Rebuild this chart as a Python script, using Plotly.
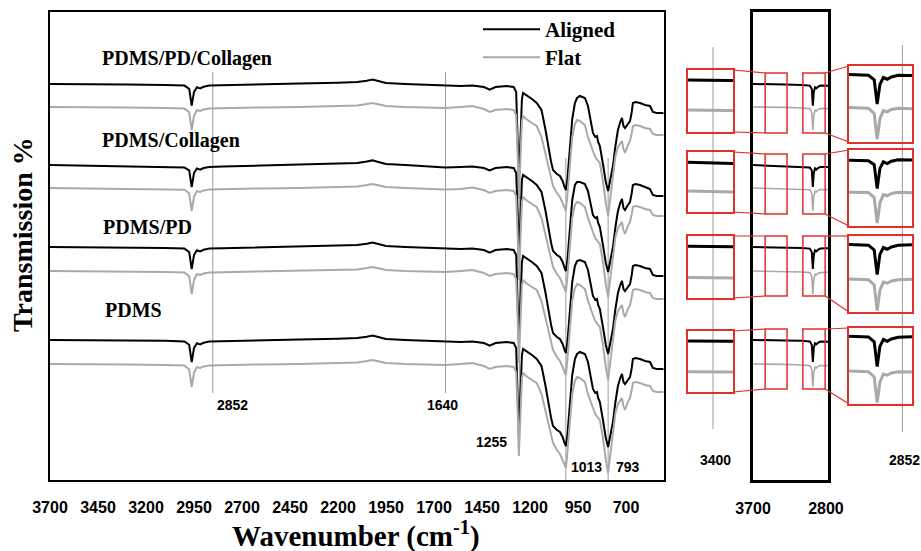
import plotly.graph_objects as go

# ---------------- data ----------------
wavenumber = [
    3700, 3500, 3300, 3100, 3000, 2975, 2962, 2950, 2935, 2918,
    2900, 2870, 2800, 2600, 2400, 2200, 2100, 2050, 2020, 1990,
    1950, 1850, 1700, 1640, 1560, 1500, 1440, 1410, 1380, 1320,
    1285, 1272, 1264, 1258, 1250, 1242, 1236, 1220, 1190, 1165,
    1140, 1120, 1106, 1090, 1080, 1060, 1044, 1030, 1020, 1013,
    1005, 992, 980, 966, 955, 940, 925, 914, 898, 885,
    872, 860, 851, 845, 836, 820, 805, 793, 780, 768,
    755, 742, 730, 721, 713, 705, 690, 679, 670, 664,
    650, 627, 601, 575, 560, 540, 505,
]

pdms_pd_collagen_aligned = [
    99.0, 99.0, 98.9, 98.75, 98.6, 97.8, 93.6, 97.0, 98.2, 97.9,
    98.3, 98.6, 98.7, 98.9, 99.1, 99.3, 99.5, 99.8, 100.1, 99.75,
    99.25, 99.0, 98.75, 98.5, 98.5, 98.6, 98.25, 97.6, 98.25, 98.5,
    98.25, 97.0, 87.0, 75.0, 85.0, 95.25, 96.75, 96.25, 95.25, 94.25,
    92.5, 87.75, 83.5, 79.5, 77.5, 76.5, 76.0, 74.75, 73.25, 72.5,
    75.25, 83.5, 90.25, 94.25, 95.5, 96.0, 95.75, 95.5, 93.5, 90.25,
    86.75, 85.75, 86.0, 84.5, 83.5, 79.0, 74.5, 72.25, 75.25, 78.5,
    83.5, 87.5, 89.5, 90.5, 88.5, 88.0, 89.0, 89.75, 92.0, 94.25,
    94.5, 94.25, 93.75, 93.5, 92.0, 91.75, 91.75,
]
pdms_pd_collagen_flat = [
    93.25, 93.25, 93.15, 93.0, 92.85, 91.95, 87.5, 91.05, 92.45, 92.25,
    92.65, 92.85, 92.95, 93.15, 93.25, 93.45, 93.65, 94.0, 94.25, 93.95,
    93.5, 93.25, 93.0, 93.0, 93.25, 93.5, 92.75, 92.0, 92.5, 92.75,
    92.5, 91.25, 81.25, 70.25, 80.25, 89.75, 91.0, 90.25, 89.25, 88.5,
    85.75, 81.75, 78.75, 75.25, 73.5, 71.75, 70.75, 69.25, 68.0, 67.25,
    71.25, 79.25, 85.75, 89.0, 90.0, 89.75, 89.25, 88.75, 85.75, 83.75,
    82.25, 80.75, 80.0, 79.75, 79.25, 74.75, 69.25, 66.0, 71.25, 76.75,
    81.0, 83.25, 84.25, 84.75, 82.75, 81.75, 83.75, 84.75, 86.75, 88.5,
    88.75, 88.5, 88.0, 87.75, 86.5, 86.25, 86.25,
]
pdms_collagen_aligned = [
    78.75, 78.6, 78.4, 78.25, 78.1, 77.4, 73.25, 76.75, 77.9, 77.6,
    78.0, 78.25, 78.4, 78.6, 78.8, 79.0, 79.25, 79.6, 79.9, 79.5,
    79.0, 78.75, 78.4, 78.1, 78.25, 78.4, 78.0, 77.4, 78.0, 78.25,
    78.0, 76.75, 66.75, 54.75, 64.75, 75.0, 76.25, 75.75, 74.75, 73.75,
    72.0, 67.5, 63.25, 59.25, 57.25, 56.25, 55.75, 54.5, 53.0, 52.25,
    55.0, 63.25, 70.0, 73.75, 74.5, 74.5, 74.25, 74.0, 72.25, 69.5,
    66.25, 65.5, 65.75, 64.25, 63.25, 58.75, 54.25, 52.0, 55.0, 58.25,
    63.25, 67.25, 69.25, 70.25, 68.0, 67.5, 68.75, 69.5, 71.75, 73.75,
    74.0, 73.75, 73.25, 72.75, 71.25, 71.0, 71.0,
]
pdms_collagen_flat = [
    73.0, 72.9, 72.8, 72.7, 72.55, 71.7, 67.25, 70.8, 72.2, 72.0,
    72.4, 72.6, 72.7, 72.9, 73.0, 73.2, 73.4, 73.75, 74.0, 73.7,
    73.25, 73.0, 72.75, 72.6, 72.75, 73.1, 72.5, 71.75, 72.25, 72.5,
    72.25, 71.0, 61.0, 50.0, 60.0, 69.5, 70.75, 70.0, 69.0, 68.25,
    65.5, 61.5, 58.5, 55.0, 53.25, 51.5, 50.5, 49.0, 47.75, 47.0,
    51.0, 59.0, 65.5, 68.75, 69.5, 69.25, 68.75, 68.25, 65.5, 63.5,
    62.0, 60.5, 59.75, 59.5, 59.0, 54.5, 49.0, 45.75, 51.0, 56.5,
    60.75, 63.0, 64.0, 64.5, 62.5, 61.5, 63.5, 64.5, 66.5, 68.25,
    68.5, 68.25, 67.75, 67.5, 66.25, 66.0, 66.0,
]
pdms_pd_aligned = [
    58.25, 58.2, 58.1, 58.0, 57.85, 57.0, 52.75, 56.25, 57.45, 57.15,
    57.55, 57.85, 57.95, 58.15, 58.35, 58.55, 58.75, 59.05, 59.35, 59.0,
    58.5, 58.25, 58.0, 57.75, 57.75, 57.85, 57.5, 56.85, 57.5, 57.75,
    57.5, 56.25, 46.25, 34.25, 44.25, 54.5, 56.0, 55.5, 54.5, 53.5,
    51.75, 47.0, 42.75, 38.75, 36.75, 35.75, 35.25, 34.0, 32.5, 31.75,
    34.5, 42.75, 49.5, 53.5, 54.75, 55.0, 54.75, 54.5, 52.5, 49.5,
    46.0, 45.0, 45.25, 43.75, 42.75, 38.25, 33.75, 31.5, 34.5, 37.75,
    42.75, 46.75, 48.75, 49.75, 47.75, 47.25, 48.25, 49.0, 51.25, 53.5,
    53.75, 53.5, 53.0, 52.75, 51.25, 51.0, 51.0,
]
pdms_pd_flat = [
    52.25, 52.2, 52.15, 52.0, 51.85, 50.95, 46.5, 50.05, 51.45, 51.25,
    51.65, 51.85, 51.95, 52.15, 52.25, 52.45, 52.65, 53.0, 53.25, 52.95,
    52.5, 52.25, 52.0, 52.0, 52.25, 52.5, 51.75, 51.0, 51.5, 51.75,
    51.5, 50.25, 40.25, 29.25, 39.25, 48.75, 50.0, 49.25, 48.25, 47.5,
    44.75, 40.75, 37.75, 34.25, 32.5, 30.75, 29.75, 28.25, 27.0, 26.25,
    30.25, 38.25, 44.75, 48.0, 49.0, 48.75, 48.25, 47.75, 44.75, 42.75,
    41.25, 39.75, 39.0, 38.75, 38.25, 33.75, 28.25, 25.0, 30.25, 35.75,
    40.0, 42.25, 43.25, 43.75, 41.75, 40.75, 42.75, 43.75, 45.75, 47.5,
    47.75, 47.5, 47.0, 46.75, 45.5, 45.25, 45.25,
]
pdms_aligned = [
    35.0, 35.0, 34.9, 34.8, 34.65, 33.8, 29.5, 33.0, 34.2, 33.9,
    34.3, 34.6, 34.7, 34.9, 35.1, 35.3, 35.5, 35.8, 36.1, 35.75,
    35.25, 35.0, 34.75, 34.5, 34.5, 34.6, 34.25, 33.6, 34.25, 34.5,
    34.25, 33.0, 23.0, 11.0, 21.0, 31.25, 32.75, 32.25, 31.25, 30.25,
    28.5, 23.75, 19.5, 15.5, 13.5, 12.5, 12.0, 10.75, 9.25, 8.5,
    11.25, 19.5, 26.25, 30.25, 31.5, 32.0, 31.75, 31.5, 29.5, 26.25,
    22.75, 21.75, 22.0, 20.5, 19.5, 15.0, 10.5, 8.25, 11.25, 14.5,
    19.5, 23.5, 25.5, 26.5, 24.5, 24.0, 25.0, 25.75, 28.0, 30.25,
    30.5, 30.25, 29.75, 29.5, 28.0, 27.75, 27.75,
]
pdms_flat = [
    29.0, 29.0, 28.9, 28.75, 28.6, 27.7, 23.25, 26.8, 28.2, 28.0,
    28.4, 28.6, 28.7, 28.9, 29.0, 29.2, 29.4, 29.75, 30.0, 29.7,
    29.25, 29.0, 28.75, 28.75, 29.0, 29.25, 28.5, 27.75, 28.25, 28.5,
    28.25, 27.0, 17.0, 6.0, 16.0, 25.5, 26.75, 26.0, 25.0, 24.25,
    21.5, 17.5, 14.5, 11.0, 9.25, 7.5, 6.5, 5.0, 3.75, 3.0,
    7.0, 15.0, 21.5, 24.75, 25.75, 25.5, 25.0, 24.5, 21.5, 19.5,
    18.0, 16.5, 15.75, 15.5, 15.0, 10.5, 5.0, 1.75, 7.0, 12.5,
    16.75, 19.0, 20.0, 20.5, 18.5, 17.5, 19.5, 20.5, 22.5, 24.25,
    24.5, 24.25, 23.75, 23.5, 22.25, 22.0, 22.0,
]

sample_names = ["PDMS/PD/Collagen", "PDMS/Collagen", "PDMS/PD", "PDMS"]
sample_label_x = [3440, 3440, 3432, 3425]
sample_label_y = [105.5, 85.0, 63.25, 42.5]
series_names = ["Aligned", "Flat"]

x_tickvals = [3700, 3450, 3200, 2950, 2700, 2450, 2200, 1950, 1700, 1450, 1200, 950, 700]
inset_tickvals = [3700, 2800]
marked_lines = [2852, 1640]          # guide lines in the upper region
peak_lines = [1255, 1013, 793]       # main absorption bands
left_zoom_window = [3550, 3280]      # region enlarged on the left (around 3400)
right_zoom_window = [3085, 2810]     # region enlarged on the right (around 2852)
zoom_marks = [3400, 2852]

# ---------------- layout helpers ----------------
W, H = 921, 551
BLACK, GRAY, RED, GUIDE = "#000000", "#a9a9a9", "#e0302e", "#9c9c9c"
SERIF, SANS = "Liberation Serif", "Liberation Sans"


def fx(p):
    return p / W


def fy(p):
    return 1 - p / H


MAIN_X = [fx(50), fx(664)]
MAIN_Y = [fy(480), fy(12)]
INSET_X = [fx(753), fx(828)]
Y_RANGE = [0, 117]
MAIN_RANGE = [3700, 502]
INSET_RANGE = [3700, 2775]
LEFT_MAG_X = [fx(688), fx(733)]
RIGHT_MAG_X = [fx(849), fx(912)]
left_mag_px = [(70, 132), (152, 212), (236, 298), (331, 392)]
right_mag_px = [(66, 142), (150, 226), (236, 312), (328, 404)]


def inset_px(wn):
    return INSET_X[0] + (INSET_RANGE[0] - wn) / (INSET_RANGE[0] - INSET_RANGE[1]) * (INSET_X[1] - INSET_X[0])


def main_py(t):
    return MAIN_Y[0] + (t - Y_RANGE[0]) / (Y_RANGE[1] - Y_RANGE[0]) * (MAIN_Y[1] - MAIN_Y[0])


pairs = [
    (pdms_pd_collagen_aligned, pdms_pd_collagen_flat),
    (pdms_collagen_aligned, pdms_collagen_flat),
    (pdms_pd_aligned, pdms_pd_flat),
    (pdms_aligned, pdms_flat),
]

fig = go.Figure()
layout = {}
shapes = []
annotations = []

for k, (al, fl) in enumerate(pairs):
    for vals, color, name, leg in ((al, BLACK, series_names[0], "legend"),
                                   (fl, GRAY, series_names[1], "legend2")):
        fig.add_trace(go.Scatter(
            x=wavenumber, y=vals, mode="lines", name=name, legendgroup=name, legend=leg,
            showlegend=(k == 0), line=dict(color=color, width=2),
            xaxis="x", yaxis="y", hoverinfo="skip"))
        fig.add_trace(go.Scatter(
            x=wavenumber, y=vals, mode="lines", name=name, legendgroup=name, legend=leg,
            showlegend=False, line=dict(color=color, width=2 if color == BLACK else 1.6),
            xaxis="x2", yaxis="y2", hoverinfo="skip"))
        fig.add_trace(go.Scatter(
            x=wavenumber, y=vals, mode="lines", name=name, legendgroup=name, legend=leg,
            showlegend=False, line=dict(color=color, width=3),
            xaxis=f"x{3 + k}", yaxis=f"y{3 + k}", hoverinfo="skip"))
        fig.add_trace(go.Scatter(
            x=wavenumber, y=vals, mode="lines", name=name, legendgroup=name, legend=leg,
            showlegend=False, line=dict(color=color, width=3),
            xaxis=f"x{7 + k}", yaxis=f"y{7 + k}", hoverinfo="skip"))

    base = al[0]
    hidden = dict(showgrid=False, zeroline=False, showticklabels=False, ticks="", automargin=False,
                  showline=True, mirror=True, linecolor=RED, linewidth=1.5)
    top, bot = left_mag_px[k]
    layout[f"xaxis{3 + k}"] = dict(domain=LEFT_MAG_X, range=left_zoom_window, anchor=f"y{3 + k}", **hidden)
    layout[f"yaxis{3 + k}"] = dict(domain=[fy(bot), fy(top)], range=[base - 10.0, base + 1.9],
                                   anchor=f"x{3 + k}", **hidden)
    top_r, bot_r = right_mag_px[k]
    layout[f"xaxis{7 + k}"] = dict(domain=RIGHT_MAG_X, range=right_zoom_window, anchor=f"y{7 + k}", **hidden)
    layout[f"yaxis{7 + k}"] = dict(domain=[fy(bot_r), fy(top_r)], range=[base - 12.0, base + 1.2],
                                   anchor=f"x{7 + k}", **hidden)

    # small boxes inside the inset
    b_lo, b_hi = base - 12.25, base + 2.75
    for win in (left_zoom_window, right_zoom_window):
        shapes.append(dict(type="rect", xref="x2", yref="y2", x0=win[0], x1=win[1], y0=b_lo, y1=b_hi,
                           line=dict(color=RED, width=1.5), layer="above"))
    # connectors
    shapes.append(dict(type="line", xref="paper", yref="paper", x0=LEFT_MAG_X[1], y0=fy(top),
                       x1=inset_px(left_zoom_window[0]), y1=main_py(b_hi), line=dict(color=RED, width=1.2)))
    shapes.append(dict(type="line", xref="paper", yref="paper", x0=LEFT_MAG_X[1], y0=fy(bot),
                       x1=inset_px(left_zoom_window[0]), y1=main_py(b_lo), line=dict(color=RED, width=1.2)))
    shapes.append(dict(type="line", xref="paper", yref="paper", x0=inset_px(right_zoom_window[1]), y0=main_py(b_hi),
                       x1=RIGHT_MAG_X[0], y1=fy(top_r), line=dict(color=RED, width=1.2)))
    shapes.append(dict(type="line", xref="paper", yref="paper", x0=inset_px(right_zoom_window[1]), y0=main_py(b_lo),
                       x1=RIGHT_MAG_X[0], y1=fy(bot_r), line=dict(color=RED, width=1.2)))

    annotations.append(dict(xref="x", yref="y", x=sample_label_x[k], y=sample_label_y[k],
                            text=sample_names[k], showarrow=False, xanchor="left", yanchor="middle",
                            font=dict(family=SERIF, size=20, color=BLACK, weight="bold")))

# guide lines in main plot
for wn in marked_lines:
    shapes.append(dict(type="line", xref="x", yref="y", x0=wn, x1=wn, y0=21.75, y1=102,
                       line=dict(color=GUIDE, width=1), layer="below"))
for wn in peak_lines:
    shapes.append(dict(type="line", xref="x", yref="y", x0=wn, x1=wn,
                       y0=6.75 if wn == 1255 else 0, y1=80.5,
                       line=dict(color=GUIDE, width=1), layer="below"))
# guide lines across the enlarged panels
shapes.append(dict(type="line", xref="x3", yref="paper", x0=zoom_marks[0], x1=zoom_marks[0],
                   y0=fy(429), y1=fy(47), line=dict(color=GUIDE, width=1), layer="below"))
shapes.append(dict(type="line", xref="x7", yref="paper", x0=zoom_marks[1], x1=zoom_marks[1],
                   y0=fy(432), y1=fy(45), line=dict(color=GUIDE, width=1), layer="below"))

lab_font = dict(family=SANS, size=14, color=BLACK, weight="bold")


def lab(**kw):
    d = dict(showarrow=False, yanchor="middle", font=lab_font)
    d.update(kw)
    return d


annotations += [
    lab(xref="x", yref="y", x=2852, y=18.75, text="2852", xanchor="left", xshift=2),
    lab(xref="x", yref="y", x=1640, y=18.75, text="1640", xanchor="center", xshift=-3),
    lab(xref="x", yref="y", x=1255, y=9.5, text="1255", xanchor="right", xshift=-10),
    lab(xref="x", yref="y", x=1013, y=3.25, text="1013", xanchor="left", xshift=3),
    lab(xref="x", yref="y", x=793, y=3.25, text="793", xanchor="left", xshift=6),
    lab(xref="x3", yref="paper", x=zoom_marks[0], y=fy(460), text="3400", xanchor="center", xshift=2),
    lab(xref="x7", yref="paper", x=zoom_marks[1], y=fy(460), text="2852", xanchor="center", xshift=2),
    dict(xref="paper", yref="paper", x=fx(356), y=fy(534), xanchor="center", yanchor="middle",
         text="Wavenumber (cm<sup>-1</sup>)", showarrow=False,
         font=dict(family=SERIF, size=29, color=BLACK, weight="bold")),
    dict(xref="paper", yref="paper", x=fx(22), y=fy(235), xanchor="center", yanchor="middle",
         text="Transmission %", textangle=-90, showarrow=False,
         font=dict(family=SERIF, size=28, color=BLACK, weight="bold")),
]

tick_font = dict(family=SANS, size=16, color=BLACK, weight="bold")
frame = dict(showline=True, mirror=True, linecolor=BLACK, showgrid=False, zeroline=False, automargin=False)
layout.update(
    xaxis=dict(domain=MAIN_X, range=MAIN_RANGE, anchor="y", tickvals=x_tickvals, ticks="",
               tickfont=tick_font, ticklabelstandoff=12, linewidth=2, **frame),
    yaxis=dict(domain=MAIN_Y, range=Y_RANGE, anchor="x", showticklabels=False, ticks="", linewidth=2, **frame),
    xaxis2=dict(domain=INSET_X, range=INSET_RANGE, anchor="y2", tickvals=inset_tickvals, ticks="",
                tickfont=tick_font, ticklabelstandoff=12, linewidth=2.5, **frame),
    yaxis2=dict(domain=MAIN_Y, range=Y_RANGE, anchor="x2", showticklabels=False, ticks="", linewidth=2.5, **frame),
)

legend_font = dict(family=SERIF, size=21, color=BLACK, weight="bold")
fig.update_layout(
    template="none",
    width=W, height=H, margin=dict(l=0, r=0, t=0, b=0, pad=0), autosize=False,
    paper_bgcolor="white", plot_bgcolor="white",
    font=dict(family=SANS, color=BLACK),
    showlegend=True,
    legend=dict(x=fx(478), y=fy(9), xanchor="left", yanchor="top", font=legend_font,
                bgcolor="rgba(0,0,0,0)", itemwidth=57, tracegroupgap=0),
    legend2=dict(x=fx(478), y=fy(37), xanchor="left", yanchor="top", font=legend_font,
                 bgcolor="rgba(0,0,0,0)", itemwidth=57, tracegroupgap=0),
    shapes=shapes, annotations=annotations,
    **layout,
)

fig.write_html("out.html", config={"displayModeBar": False},
               post_script="document.body.style.margin='0px';")
